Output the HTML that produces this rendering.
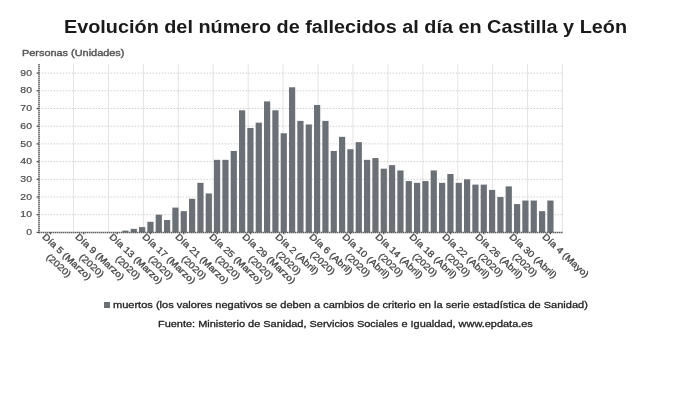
<!DOCTYPE html>
<html><head><meta charset="utf-8"><style>
html,body{margin:0;padding:0;background:#fff;}
*{-webkit-font-smoothing:antialiased;}
.lg,.src,.t,.yt,.yl{will-change:transform;}
body{width:690px;height:406px;position:relative;overflow:hidden;font-family:"Liberation Sans",sans-serif;}
.t{position:absolute;left:64.3px;top:15px;font-weight:bold;font-size:17.5px;color:#1a1a1a;line-height:24px;white-space:nowrap;transform-origin:0 0;transform:scaleX(1.133);}
.yt{position:absolute;left:22.3px;top:45.9px;font-size:9.5px;color:#555;line-height:14px;white-space:nowrap;-webkit-text-stroke:0.4px #555;transform-origin:0 0;transform:scaleX(1.148);}
.yl{position:absolute;left:0;width:32px;text-align:right;transform-origin:100% 50%;transform:scaleX(1.1);font-size:9.5px;line-height:12px;color:#4a4a4a;-webkit-text-stroke:0.2px #4a4a4a;}
.xl{position:absolute;transform-origin:0 0;transform:rotate(43deg) scaleX(1.12);font-size:9.2px;line-height:12px;color:#444;text-align:center;white-space:nowrap;-webkit-text-stroke:0.3px #444;}
svg{position:absolute;left:0;top:0;}
.lgs{position:absolute;left:104px;top:302px;width:6px;height:6px;background:#6a7075;}
.lg{position:absolute;left:113.2px;top:298.3px;font-size:9.6px;line-height:14px;color:#222;white-space:nowrap;transform-origin:0 0;transform:scaleX(1.149);-webkit-text-stroke:0.3px #222;}
.src{position:absolute;left:158.4px;top:317.1px;font-size:9.6px;line-height:14px;color:#222;white-space:nowrap;transform-origin:0 0;transform:scaleX(1.141);-webkit-text-stroke:0.3px #222;}
</style></head><body>
<div class="t">Evolución del número de fallecidos al día en Castilla y León</div>
<div class="yt">Personas (Unidades)</div>
<svg width="690" height="406" viewBox="0 0 690 406">
<line x1="73.53" y1="64.0" x2="73.53" y2="232.4" stroke="#e3e3e3" stroke-width="1"/>
<line x1="108.45" y1="64.0" x2="108.45" y2="232.4" stroke="#e3e3e3" stroke-width="1"/>
<line x1="143.38" y1="64.0" x2="143.38" y2="232.4" stroke="#e3e3e3" stroke-width="1"/>
<line x1="178.31" y1="64.0" x2="178.31" y2="232.4" stroke="#e3e3e3" stroke-width="1"/>
<line x1="213.23" y1="64.0" x2="213.23" y2="232.4" stroke="#e3e3e3" stroke-width="1"/>
<line x1="248.16" y1="64.0" x2="248.16" y2="232.4" stroke="#e3e3e3" stroke-width="1"/>
<line x1="283.09" y1="64.0" x2="283.09" y2="232.4" stroke="#e3e3e3" stroke-width="1"/>
<line x1="318.01" y1="64.0" x2="318.01" y2="232.4" stroke="#e3e3e3" stroke-width="1"/>
<line x1="352.94" y1="64.0" x2="352.94" y2="232.4" stroke="#e3e3e3" stroke-width="1"/>
<line x1="387.87" y1="64.0" x2="387.87" y2="232.4" stroke="#e3e3e3" stroke-width="1"/>
<line x1="422.79" y1="64.0" x2="422.79" y2="232.4" stroke="#e3e3e3" stroke-width="1"/>
<line x1="457.72" y1="64.0" x2="457.72" y2="232.4" stroke="#e3e3e3" stroke-width="1"/>
<line x1="492.65" y1="64.0" x2="492.65" y2="232.4" stroke="#e3e3e3" stroke-width="1"/>
<line x1="527.57" y1="64.0" x2="527.57" y2="232.4" stroke="#e3e3e3" stroke-width="1"/>
<line x1="562.50" y1="64.0" x2="562.50" y2="232.4" stroke="#e3e3e3" stroke-width="1"/>
<line x1="38.6" y1="214.70" x2="562.5" y2="214.70" stroke="#cfcfcf" stroke-width="1" stroke-dasharray="1.5,1.5"/>
<line x1="38.6" y1="197.00" x2="562.5" y2="197.00" stroke="#cfcfcf" stroke-width="1" stroke-dasharray="1.5,1.5"/>
<line x1="38.6" y1="179.30" x2="562.5" y2="179.30" stroke="#cfcfcf" stroke-width="1" stroke-dasharray="1.5,1.5"/>
<line x1="38.6" y1="161.60" x2="562.5" y2="161.60" stroke="#cfcfcf" stroke-width="1" stroke-dasharray="1.5,1.5"/>
<line x1="38.6" y1="143.90" x2="562.5" y2="143.90" stroke="#cfcfcf" stroke-width="1" stroke-dasharray="1.5,1.5"/>
<line x1="38.6" y1="126.20" x2="562.5" y2="126.20" stroke="#cfcfcf" stroke-width="1" stroke-dasharray="1.5,1.5"/>
<line x1="38.6" y1="108.50" x2="562.5" y2="108.50" stroke="#cfcfcf" stroke-width="1" stroke-dasharray="1.5,1.5"/>
<line x1="38.6" y1="90.80" x2="562.5" y2="90.80" stroke="#cfcfcf" stroke-width="1" stroke-dasharray="1.5,1.5"/>
<line x1="38.6" y1="73.10" x2="562.5" y2="73.10" stroke="#cfcfcf" stroke-width="1" stroke-dasharray="1.5,1.5"/>
<rect x="122.35" y="230.63" width="6.2" height="1.77" fill="#6a7075"/>
<rect x="130.68" y="228.86" width="6.2" height="3.54" fill="#6a7075"/>
<rect x="139.01" y="227.09" width="6.2" height="5.31" fill="#6a7075"/>
<rect x="147.35" y="221.78" width="6.2" height="10.62" fill="#6a7075"/>
<rect x="155.68" y="214.70" width="6.2" height="17.70" fill="#6a7075"/>
<rect x="164.01" y="220.01" width="6.2" height="12.39" fill="#6a7075"/>
<rect x="172.34" y="207.62" width="6.2" height="24.78" fill="#6a7075"/>
<rect x="180.68" y="211.16" width="6.2" height="21.24" fill="#6a7075"/>
<rect x="189.01" y="198.77" width="6.2" height="33.63" fill="#6a7075"/>
<rect x="197.34" y="182.84" width="6.2" height="49.56" fill="#6a7075"/>
<rect x="205.68" y="193.46" width="6.2" height="38.94" fill="#6a7075"/>
<rect x="214.01" y="159.83" width="6.2" height="72.57" fill="#6a7075"/>
<rect x="222.34" y="159.83" width="6.2" height="72.57" fill="#6a7075"/>
<rect x="230.68" y="150.98" width="6.2" height="81.42" fill="#6a7075"/>
<rect x="239.01" y="110.27" width="6.2" height="122.13" fill="#6a7075"/>
<rect x="247.34" y="127.97" width="6.2" height="104.43" fill="#6a7075"/>
<rect x="255.68" y="122.66" width="6.2" height="109.74" fill="#6a7075"/>
<rect x="264.01" y="101.42" width="6.2" height="130.98" fill="#6a7075"/>
<rect x="272.34" y="110.27" width="6.2" height="122.13" fill="#6a7075"/>
<rect x="280.67" y="133.28" width="6.2" height="99.12" fill="#6a7075"/>
<rect x="289.01" y="87.26" width="6.2" height="145.14" fill="#6a7075"/>
<rect x="297.34" y="120.89" width="6.2" height="111.51" fill="#6a7075"/>
<rect x="305.67" y="124.43" width="6.2" height="107.97" fill="#6a7075"/>
<rect x="314.01" y="104.96" width="6.2" height="127.44" fill="#6a7075"/>
<rect x="322.34" y="120.89" width="6.2" height="111.51" fill="#6a7075"/>
<rect x="330.67" y="150.98" width="6.2" height="81.42" fill="#6a7075"/>
<rect x="339.00" y="136.82" width="6.2" height="95.58" fill="#6a7075"/>
<rect x="347.34" y="149.21" width="6.2" height="83.19" fill="#6a7075"/>
<rect x="355.67" y="142.13" width="6.2" height="90.27" fill="#6a7075"/>
<rect x="364.00" y="159.83" width="6.2" height="72.57" fill="#6a7075"/>
<rect x="372.34" y="158.06" width="6.2" height="74.34" fill="#6a7075"/>
<rect x="380.67" y="168.68" width="6.2" height="63.72" fill="#6a7075"/>
<rect x="389.00" y="165.14" width="6.2" height="67.26" fill="#6a7075"/>
<rect x="397.34" y="170.45" width="6.2" height="61.95" fill="#6a7075"/>
<rect x="405.67" y="181.07" width="6.2" height="51.33" fill="#6a7075"/>
<rect x="414.00" y="182.84" width="6.2" height="49.56" fill="#6a7075"/>
<rect x="422.33" y="181.07" width="6.2" height="51.33" fill="#6a7075"/>
<rect x="430.67" y="170.45" width="6.2" height="61.95" fill="#6a7075"/>
<rect x="439.00" y="182.84" width="6.2" height="49.56" fill="#6a7075"/>
<rect x="447.33" y="173.99" width="6.2" height="58.41" fill="#6a7075"/>
<rect x="455.67" y="182.84" width="6.2" height="49.56" fill="#6a7075"/>
<rect x="464.00" y="179.30" width="6.2" height="53.10" fill="#6a7075"/>
<rect x="472.33" y="184.61" width="6.2" height="47.79" fill="#6a7075"/>
<rect x="480.67" y="184.61" width="6.2" height="47.79" fill="#6a7075"/>
<rect x="489.00" y="189.92" width="6.2" height="42.48" fill="#6a7075"/>
<rect x="497.33" y="197.00" width="6.2" height="35.40" fill="#6a7075"/>
<rect x="505.66" y="186.38" width="6.2" height="46.02" fill="#6a7075"/>
<rect x="514.00" y="204.08" width="6.2" height="28.32" fill="#6a7075"/>
<rect x="522.33" y="200.54" width="6.2" height="31.86" fill="#6a7075"/>
<rect x="530.66" y="200.54" width="6.2" height="31.86" fill="#6a7075"/>
<rect x="539.00" y="211.16" width="6.2" height="21.24" fill="#6a7075"/>
<rect x="547.33" y="200.54" width="6.2" height="31.86" fill="#6a7075"/>
<line x1="39" y1="64.0" x2="39" y2="233.20000000000002" stroke="#5c5c5c" stroke-width="1.6" stroke-dasharray="1.5,0.5"/>
<line x1="39" y1="232.5" x2="562.5" y2="232.5" stroke="#5c5c5c" stroke-width="1.6" stroke-dasharray="1.5,0.5"/>
<line x1="36.6" y1="232.40" x2="38.6" y2="232.40" stroke="#444" stroke-width="1.2"/>
<line x1="36.6" y1="214.70" x2="38.6" y2="214.70" stroke="#444" stroke-width="1.2"/>
<line x1="36.6" y1="197.00" x2="38.6" y2="197.00" stroke="#444" stroke-width="1.2"/>
<line x1="36.6" y1="179.30" x2="38.6" y2="179.30" stroke="#444" stroke-width="1.2"/>
<line x1="36.6" y1="161.60" x2="38.6" y2="161.60" stroke="#444" stroke-width="1.2"/>
<line x1="36.6" y1="143.90" x2="38.6" y2="143.90" stroke="#444" stroke-width="1.2"/>
<line x1="36.6" y1="126.20" x2="38.6" y2="126.20" stroke="#444" stroke-width="1.2"/>
<line x1="36.6" y1="108.50" x2="38.6" y2="108.50" stroke="#444" stroke-width="1.2"/>
<line x1="36.6" y1="90.80" x2="38.6" y2="90.80" stroke="#444" stroke-width="1.2"/>
<line x1="36.6" y1="73.10" x2="38.6" y2="73.10" stroke="#444" stroke-width="1.2"/>
<line x1="50.45" y1="232.4" x2="50.45" y2="234.20000000000002" stroke="#444" stroke-width="1.2"/>
<line x1="83.78" y1="232.4" x2="83.78" y2="234.20000000000002" stroke="#444" stroke-width="1.2"/>
<line x1="117.11" y1="232.4" x2="117.11" y2="234.20000000000002" stroke="#444" stroke-width="1.2"/>
<line x1="150.45" y1="232.4" x2="150.45" y2="234.20000000000002" stroke="#444" stroke-width="1.2"/>
<line x1="183.78" y1="232.4" x2="183.78" y2="234.20000000000002" stroke="#444" stroke-width="1.2"/>
<line x1="217.11" y1="232.4" x2="217.11" y2="234.20000000000002" stroke="#444" stroke-width="1.2"/>
<line x1="250.44" y1="232.4" x2="250.44" y2="234.20000000000002" stroke="#444" stroke-width="1.2"/>
<line x1="283.77" y1="232.4" x2="283.77" y2="234.20000000000002" stroke="#444" stroke-width="1.2"/>
<line x1="317.11" y1="232.4" x2="317.11" y2="234.20000000000002" stroke="#444" stroke-width="1.2"/>
<line x1="350.44" y1="232.4" x2="350.44" y2="234.20000000000002" stroke="#444" stroke-width="1.2"/>
<line x1="383.77" y1="232.4" x2="383.77" y2="234.20000000000002" stroke="#444" stroke-width="1.2"/>
<line x1="417.10" y1="232.4" x2="417.10" y2="234.20000000000002" stroke="#444" stroke-width="1.2"/>
<line x1="450.43" y1="232.4" x2="450.43" y2="234.20000000000002" stroke="#444" stroke-width="1.2"/>
<line x1="483.77" y1="232.4" x2="483.77" y2="234.20000000000002" stroke="#444" stroke-width="1.2"/>
<line x1="517.10" y1="232.4" x2="517.10" y2="234.20000000000002" stroke="#444" stroke-width="1.2"/>
<line x1="550.43" y1="232.4" x2="550.43" y2="234.20000000000002" stroke="#444" stroke-width="1.2"/>
</svg>
<div class="yl" style="top:226.00px">0</div>
<div class="yl" style="top:208.30px">10</div>
<div class="yl" style="top:190.60px">20</div>
<div class="yl" style="top:172.90px">30</div>
<div class="yl" style="top:155.20px">40</div>
<div class="yl" style="top:137.50px">50</div>
<div class="yl" style="top:119.80px">60</div>
<div class="yl" style="top:102.10px">70</div>
<div class="yl" style="top:84.40px">80</div>
<div class="yl" style="top:66.70px">90</div>
<div class="xl" style="left:47.85px;top:230.60px">Día 5 (Marzo)<br>(2020)</div>
<div class="xl" style="left:81.18px;top:230.60px">Día 9 (Marzo)<br>(2020)</div>
<div class="xl" style="left:114.51px;top:230.60px">Día 13 (Marzo)<br>(2020)</div>
<div class="xl" style="left:147.85px;top:230.60px">Día 17 (Marzo)<br>(2020)</div>
<div class="xl" style="left:181.18px;top:230.60px">Día 21 (Marzo)<br>(2020)</div>
<div class="xl" style="left:214.51px;top:230.60px">Día 25 (Marzo)<br>(2020)</div>
<div class="xl" style="left:247.84px;top:230.60px">Día 29 (Marzo)<br>(2020)</div>
<div class="xl" style="left:281.17px;top:230.60px">Día 2 (Abril)<br>(2020)</div>
<div class="xl" style="left:314.51px;top:230.60px">Día 6 (Abril)<br>(2020)</div>
<div class="xl" style="left:347.84px;top:230.60px">Día 10 (Abril)<br>(2020)</div>
<div class="xl" style="left:381.17px;top:230.60px">Día 14 (Abril)<br>(2020)</div>
<div class="xl" style="left:414.50px;top:230.60px">Día 18 (Abril)<br>(2020)</div>
<div class="xl" style="left:447.83px;top:230.60px">Día 22 (Abril)<br>(2020)</div>
<div class="xl" style="left:481.17px;top:230.60px">Día 26 (Abril)<br>(2020)</div>
<div class="xl" style="left:514.50px;top:230.60px">Día 30 (Abril)<br>(2020)</div>
<div class="xl" style="left:547.83px;top:230.60px">Día 4 (Mayo)</div>
<div class="lgs"></div>
<div class="lg">muertos (los valores negativos se deben a cambios de criterio en la serie estadística de Sanidad)</div>
<div class="src">Fuente: Ministerio de Sanidad, Servicios Sociales e Igualdad, www.epdata.es</div>
</body></html>
